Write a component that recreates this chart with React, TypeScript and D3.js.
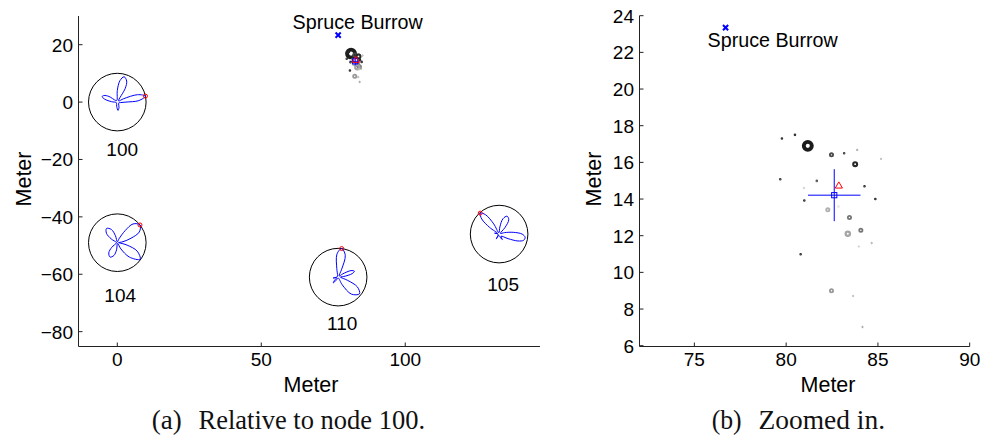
import React from 'react';
import * as d3 from 'd3';

type Pt = [number, number];

// ---- Sensor nodes (meters, relative to node 100) ----
const nodeIds = ['100', '104', '110', '105'];
const nodeX = [0, 0, 76.7, 132.6];
const nodeY = [0, -49, -61, -46];
// bearing (deg, counter-clockwise from east) of the strongest lobe
const nodeBearing = [12, 38, 83, 132];
// label placement below each node, in meters
const nodeLabelDrop = [16.4, 18.2, 16.1, 17.5];
const nodeLabelShift = [1.7, 1.0, 1.4, 1.4];

// Antenna gain patterns: [angle deg, gain scaled to a 10 m circle]
const gain100: Pt[] = [
  [0, 3], [4, 7.5], [12, 10], [20, 7.5], [28, 2.5], [42, 0.6], [60, 5.5], [66, 8], [75, 9.1],
  [83, 7.5], [90, 4], [105, 0.6], [135, 0.8], [146, 3.5], [154, 5.2], [160, 5.6], [167, 4.5],
  [176, 2], [200, 0.4], [240, 0.5], [262, 1.5], [275, 2.9], [287, 2], [305, 0.8], [335, 0.6], [352, 1.2],
];
const gain104: Pt[] = [
  [0, 0.4], [10, 2], [18, 5], [26, 8.5], [38, 10], [50, 8.5], [57, 5], [66, 1.5], [85, 0.3],
  [105, 2.5], [114, 5], [127, 6.2], [139, 5], [148, 2.5], [165, 0.3], [200, 0.3], [220, 2.5],
  [230, 4.6], [243, 5.6], [255, 4.6], [264, 2.5], [285, 0.3], [300, 2.5], [310, 6.5], [324, 9.8],
  [337, 7.5], [346, 3.5], [355, 0.8],
];
const gain110: Pt[] = [
  [0, 0.8], [8, 2.5], [14, 5], [20, 6], [27, 5], [35, 2], [50, 0.5], [66, 3], [72, 8], [83, 10],
  [93, 8], [99, 3], [115, 0.5], [170, 0.4], [190, 1.8], [200, 0.6], [222, 1.8], [230, 2.6],
  [238, 1.2], [270, 0.3], [298, 3], [308, 7.5], [322, 9.4], [333, 7.5], [341, 3.5], [352, 1],
];
const gain105: Pt[] = [
  [0, 8], [7, 5], [15, 2], [30, 0.5], [48, 3], [56, 6], [66, 6.8], [76, 5.5], [84, 2.5], [100, 0.5],
  [118, 4], [125, 8.2], [132, 9.8], [139, 8], [145, 4], [155, 0.6], [168, 1.6], [180, 0.4],
  [225, 0.5], [240, 2], [255, 0.5], [290, 1.2], [300, 2.2], [312, 1], [333, 3.5], [340, 7],
  [346, 8.8], [353, 9.1],
];
const nodeGains = [gain100, gain104, gain110, gain105];
const PATTERN_RADIUS = 10;

// ---- Burrow ----
const burrowName = 'Spruce Burrow';
const burrowX = 76.7;
const burrowY = 23.35;

// ---- Individual location fixes ----
const fixX = [81.18, 79.77, 80.48, 82.47, 83.16, 83.87, 83.76, 85.17, 79.68, 81.67, 80.97, 84.27, 80.99,
  84.86, 82.27, 82.85, 83.45, 84.07, 83.36, 84.66, 83.96, 80.79, 82.47, 83.65, 84.16];
const fixY = [16.9, 17.3, 17.5, 16.41, 16.5, 16.68, 15.9, 16.19, 15.08, 14.99, 14.6, 14.7, 13.92,
  14.0, 13.41, 13.59, 12.99, 12.3, 12.1, 11.6, 11.41, 10.99, 9.0, 8.71, 7.02];
const fixWeight = [1.0, 0.05, 0.05, 0.3, 0.05, 0.03, 0.4, 0.03, 0.05, 0.05, 0.05, 0.05, 0.05,
  0.05, 0.3, 0.05, 0.3, 0.3, 0.45, 0.03, 0.03, 0.05, 0.3, 0.03, 0.03];
const fixQuality = [0.95, 0.9, 0.9, 0.75, 0.8, 0.4, 0.9, 0.3, 0.85, 0.7, 0.12, 0.9, 0.9,
  0.9, 0.3, 0.08, 0.55, 0.55, 0.35, 0.35, 0.2, 0.9, 0.4, 0.3, 0.4];

// ---- Mean estimate with spread, and reference location ----
const meanX = 82.62;
const meanY = 14.21;
const sdX = 1.43;
const sdY = 1.42;
const refX = 82.87;
const refY = 14.74;

// ---- Ticks ----
const leftXTicks = [0, 50, 100];
const leftYTicks = [20, 0, -20, -40, -60, -80];
const rightXTicks = [75, 80, 85, 90];
const rightYTicks = [6, 8, 10, 12, 14, 16, 18, 20, 22, 24];

const SANS = '"Liberation Sans", Arial, Helvetica, sans-serif';
const SERIF = '"Liberation Serif", "Times New Roman", serif';
const AXIS = '#222';

const fmt = (v: number) => (v < 0 ? '\u2212' + Math.abs(v) : String(v));

type PanelCfg = {
  xDomain: [number, number];
  yDomain: [number, number];
  xRange: [number, number];
  yRange: [number, number];
  xTicks: number[];
  yTicks: number[];
  nodes: boolean;
  burrowDx: number;
  burrowDy: number;
  xLabelX: number;
  yLabelX: number;
  tag: string;
  tagX: [number, number];
  caption: string;
  captionX: [number, number];
};

const radiusScale = d3.scaleLinear().domain([0, 1]).range([0.6, 4]);
const widthScale = d3.scaleLinear().domain([0, 1]).range([0.9, 3.9]);
const shadeScale = d3.scaleLinear<string>().domain([0, 1]).range(['#f4f4f4', '#111111']);

function Panel({ p }: { p: PanelCfg }) {
  const x = d3.scaleLinear().domain(p.xDomain).range(p.xRange);
  const y = d3.scaleLinear().domain(p.yDomain).range(p.yRange);
  const left = Math.round(p.xRange[0]) + 0.5;
  const right = p.xRange[1];
  const bottom = Math.round(p.yRange[0]) + 0.5;
  const top = p.yRange[1];
  const pxPerM = x(1) - x(0);
  const TL = 4;

  const radial = d3
    .lineRadial<Pt>()
    .angle((d) => ((90 - d[0]) * Math.PI) / 180)
    .radius((d) => d[1] * pxPerM)
    .curve(d3.curveCatmullRomClosed.alpha(0.5));

  const bx = x(burrowX);
  const by = y(burrowY);
  const mx = x(meanX);
  const my = y(meanY);
  const rx = x(refX);
  const ry = y(refY);

  return (
    <g>
      {/* axes */}
      <line x1={left} x2={right} y1={bottom} y2={bottom} stroke={AXIS} strokeWidth={1} />
      <line x1={left} x2={left} y1={top} y2={bottom} stroke={AXIS} strokeWidth={1} />
      {p.xTicks.map((t) => (
        <g key={'xt' + t}>
          <line x1={x(t)} x2={x(t)} y1={bottom} y2={bottom - TL} stroke={AXIS} strokeWidth={1} />
          <text x={x(t)} y={366} textAnchor="middle" fontFamily={SANS} fontSize={19} fill="#000">
            {fmt(t)}
          </text>
        </g>
      ))}
      {p.yTicks.map((t) => (
        <g key={'yt' + t}>
          <line x1={left} x2={left + TL} y1={y(t)} y2={y(t)} stroke={AXIS} strokeWidth={1} />
          <text x={left - 5.5} y={y(t) + 7} textAnchor="end" fontFamily={SANS} fontSize={19} fill="#000">
            {fmt(t)}
          </text>
        </g>
      ))}
      <text x={p.xLabelX} y={392} textAnchor="middle" fontFamily={SANS} fontSize={21.5} fill="#000">
        Meter
      </text>
      <text
        transform={`translate(${p.yLabelX},179) rotate(-90)`}
        textAnchor="middle"
        dy="0.36em"
        fontFamily={SANS}
        fontSize={21.5}
        fill="#000"
      >
        Meter
      </text>

      {/* node gain patterns */}
      {p.nodes &&
        nodeIds.map((id, i) => {
          const cx = x(nodeX[i]);
          const cy = y(nodeY[i]);
          const b = (nodeBearing[i] * Math.PI) / 180;
          const peak = d3.max(nodeGains[i], (d) => d[1]) as number;
          return (
            <g key={id}>
              <circle cx={cx} cy={cy} r={PATTERN_RADIUS * pxPerM} fill="none" stroke="#000" strokeWidth={1} />
              <path d={radial(nodeGains[i]) || ''} transform={`translate(${cx},${cy})`} fill="none" stroke="#0000ff" strokeWidth={1} />
              <circle
                cx={cx + Math.cos(b) * peak * pxPerM}
                cy={cy - Math.sin(b) * peak * pxPerM}
                r={2}
                fill="none"
                stroke="#ff0000"
                strokeWidth={1}
              />
              <text
                x={x(nodeX[i] + nodeLabelShift[i])}
                y={y(nodeY[i] - nodeLabelDrop[i]) + 6.8}
                textAnchor="middle"
                fontFamily={SANS}
                fontSize={19}
                fill="#000"
              >
                {id}
              </text>
            </g>
          );
        })}

      {/* location fixes */}
      {fixX.map((fx, i) => (
        <circle
          key={'f' + i}
          cx={x(fx)}
          cy={y(fixY[i])}
          r={radiusScale(fixWeight[i])}
          fill="none"
          stroke={shadeScale(fixQuality[i])}
          strokeWidth={widthScale(fixWeight[i])}
        />
      ))}

      {/* mean estimate with spread */}
      <line x1={x(meanX - sdX)} x2={x(meanX + sdX)} y1={my} y2={my} stroke="#0000ff" strokeWidth={1} />
      <line x1={mx} x2={mx} y1={y(meanY - sdY)} y2={y(meanY + sdY)} stroke="#0000ff" strokeWidth={1} />
      <rect x={mx - 2.6} y={my - 2.6} width={5.2} height={5.2} fill="none" stroke="#0000ff" strokeWidth={1} />

      {/* reference location */}
      <path
        d={`M${rx},${ry - 3.6}L${rx + 3.6},${ry + 2.6}L${rx - 3.6},${ry + 2.6}Z`}
        fill="none"
        stroke="#ff0000"
        strokeWidth={1}
      />

      {/* burrow */}
      <path d={`M${bx - 2.6},${by - 2.6}L${bx + 2.6},${by + 2.6}M${bx - 2.6},${by + 2.6}L${bx + 2.6},${by - 2.6}`} stroke="#0000ff" strokeWidth={2} />
      <text x={bx + p.burrowDx} y={by + p.burrowDy} fontFamily={SANS} fontSize={19.7} fill="#000">
        {burrowName}
      </text>

      {/* caption */}
      <text x={p.tagX[0]} y={429} fontFamily={SERIF} fontSize={27} fill="#111" textLength={p.tagX[1] - p.tagX[0]} lengthAdjust="spacingAndGlyphs">
        {p.tag}
      </text>
      <text x={p.captionX[0]} y={429} fontFamily={SERIF} fontSize={27} fill="#111" textLength={p.captionX[1] - p.captionX[0]} lengthAdjust="spacingAndGlyphs">
        {p.caption}
      </text>
    </g>
  );
}

const leftPanel: PanelCfg = {
  xDomain: [-13.65, 146.8],
  yDomain: [-85, 30],
  xRange: [78, 540],
  yRange: [346, 16],
  xTicks: leftXTicks,
  yTicks: leftYTicks,
  nodes: true,
  burrowDx: -45.6,
  burrowDy: -6.3,
  xLabelX: 311,
  yLabelX: 23,
  tag: '(a)',
  tagX: [151.7, 181.7],
  caption: 'Relative to node 100.',
  captionX: [198.5, 425],
};

const rightPanel: PanelCfg = {
  xDomain: [72, 90],
  yDomain: [6, 24],
  xRange: [639.3, 969.7],
  yRange: [345.7, 15.7],
  xTicks: rightXTicks,
  yTicks: rightYTicks,
  nodes: false,
  burrowDx: -18,
  burrowDy: 19.7,
  xLabelX: 828,
  yLabelX: 593,
  tag: '(b)',
  tagX: [711.7, 741.7],
  caption: 'Zoomed in.',
  captionX: [758.5, 885],
};

export default function App() {
  return (
    <svg
      width={999}
      height={438}
      viewBox="0 0 999 438"
      style={{ position: 'absolute', left: 0, top: 0, background: '#fff' }}
    >
      <rect width={999} height={438} fill="#fff" />
      <Panel p={leftPanel} />
      <Panel p={rightPanel} />
    </svg>
  );
}
